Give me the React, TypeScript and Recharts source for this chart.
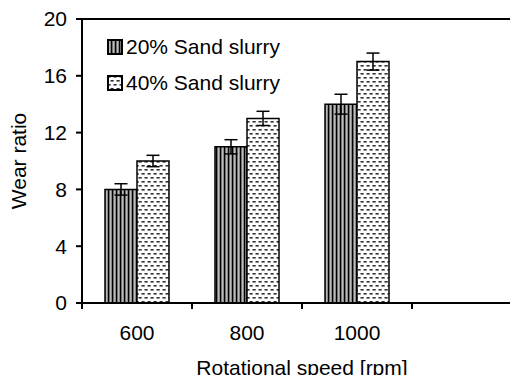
import React from 'react'
import { BarChart, Bar, XAxis, YAxis, ErrorBar, ReferenceLine, Label } from 'recharts'

const speeds = ['600', '800', '1000', '']
const seriesNames = ['20% Sand slurry', '40% Sand slurry']
const wear20 = [8, 11, 14, null]
const wear40 = [10, 13, 17, null]
const err20 = [0.4, 0.5, 0.7, null]
const err40 = [0.4, 0.5, 0.6, null]
const yTicks = [0, 4, 8, 12, 16, 20]
const xTitle = 'Rotational speed [rpm]'

const data = speeds.map((s, i) => ({
  speed: s,
  w20: wear20[i],
  w40: wear40[i],
  e20: err20[i],
  e40: err40[i],
}))

const font = '"Liberation Sans", Arial, sans-serif'
const fs = 21
const fills = ['url(#stripes)', 'url(#dashes)']

function Patterns() {
  return (
    <defs>
      <pattern id="stripes" width="4" height="4" patternUnits="userSpaceOnUse">
        <rect width="4" height="4" fill="#fff" />
        <rect x="0" width="1.4" height="4" fill="#000" />
        <rect x="1.4" width="1" height="4" fill="#555" />
        <rect x="3" width="1" height="4" fill="#888" />
      </pattern>
      <pattern id="dashes" width="6" height="8" patternUnits="userSpaceOnUse">
        <rect width="6" height="8" fill="#fff" />
        <rect x="0.5" y="1" width="3.2" height="1.6" fill="#333" />
        <rect x="3.5" y="5" width="3.2" height="1.6" fill="#333" />
        <rect x="-2.5" y="5" width="3.2" height="1.6" fill="#333" />
      </pattern>
    </defs>
  )
}

// tick label in the middle of the category, tick mark on its left boundary
function SpeedTick(props: any) {
  const { x, y, payload } = props
  const edge = x - (payload.offset || 0)
  return (
    <g>
      <line x1={edge} x2={edge} y1={y - 6} y2={y} stroke="#000" strokeWidth={2} />
      <text x={x} y={y} dy={31} textAnchor="middle" fill="#000" fontSize={fs} fontFamily={font}>
        {payload.value}
      </text>
    </g>
  )
}

// axis title with its baseline a fixed distance above the bottom of the axis box
function XTitle(props: any) {
  const vb = props.viewBox || {}
  return (
    <text
      x={vb.x + vb.width / 2}
      y={vb.y + vb.height - 8}
      textAnchor="middle"
      fill="#000"
      fontSize={fs}
      fontFamily={font}
    >
      {xTitle}
    </text>
  )
}

export default function App() {
  return (
    <div style={{ margin: -8, position: 'relative', width: 518, height: 383, overflow: 'hidden', background: '#fff', fontFamily: font }}>
      <BarChart
        width={518}
        height={383}
        data={data}
        margin={{ top: 19, right: -4, left: 0, bottom: 0 }}
        barGap={0}
        barSize={32}
      >
        <Patterns />
        <XAxis
          dataKey="speed"
          height={80}
          interval={0}
          axisLine={{ stroke: '#000', strokeWidth: 2 }}
          tickLine={false}
          tickSize={6}
          tickMargin={0}
          tick={<SpeedTick />}
        >
          <Label content={XTitle} />
        </XAxis>
        <YAxis
          width={82}
          domain={[0, 20]}
          ticks={yTicks}
          interval={0}
          axisLine={{ stroke: '#000', strokeWidth: 2 }}
          tickLine={{ stroke: '#000', strokeWidth: 2 }}
          tickSize={6}
          tickMargin={9}
          tick={{ fill: '#000', fontSize: fs, fontFamily: font }}
        >
          <Label value="Wear ratio" angle={-90} position="insideLeft" offset={19} fontSize={fs} fill="#000" fontFamily={font} style={{ textAnchor: 'middle' }} />
        </YAxis>
        <ReferenceLine y={20} stroke="#000" strokeWidth={2} />
        <Bar dataKey="w20" name={seriesNames[0]} fill={fills[0]} stroke="#000" strokeWidth={1.5} isAnimationActive={false}>
          <ErrorBar dataKey="e20" width={6.5} stroke="#000" strokeWidth={1.5} direction="y" />
        </Bar>
        <Bar dataKey="w40" name={seriesNames[1]} fill={fills[1]} stroke="#000" strokeWidth={1.5} isAnimationActive={false}>
          <ErrorBar dataKey="e40" width={6.5} stroke="#000" strokeWidth={1.5} direction="y" />
        </Bar>
      </BarChart>
      <div style={{ position: 'absolute', left: 107, top: 29 }}>
        {seriesNames.map((n, i) => (
          <div key={n} style={{ display: 'flex', alignItems: 'center', height: 36, fontSize: fs, color: '#000' }}>
            <svg width={16} height={16} style={{ marginRight: 3 }}>
              <rect x={1} y={1} width={14} height={14} fill={fills[i]} stroke="#000" strokeWidth={2} />
            </svg>
            <span>{n}</span>
          </div>
        ))}
      </div>
    </div>
  )
}
